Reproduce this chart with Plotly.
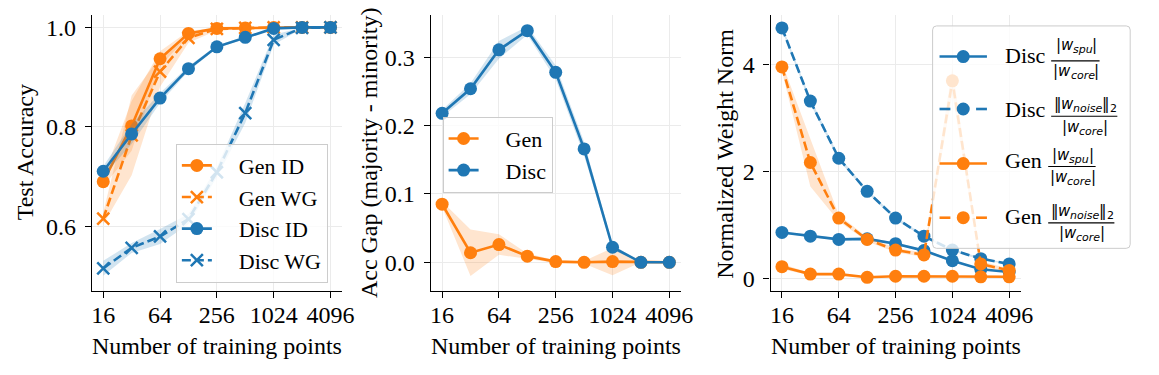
import math
import plotly.graph_objects as go

W, H = 1159, 375

# ---------------- data ----------------
n_points = [16, 32, 64, 128, 256, 512, 1024, 2048, 4096]
tick_vals = [16, 64, 256, 1024, 4096]
tick_text = ["16", "64", "256", "1024", "4096"]

# panel 1: test accuracy
gen_id = [0.690, 0.802, 0.937, 0.988, 0.998, 0.999, 1.0, 1.0, 1.0]
gen_id_std = [0.010, 0.050, 0.015, 0.005, 0.002, 0.001, 0.0, 0.0, 0.0]
gen_wg = [0.616, 0.783, 0.911, 0.979, 0.997, 0.999, 1.0, 1.0, 1.0]
gen_wg_std = [0.012, 0.080, 0.030, 0.010, 0.003, 0.001, 0.0, 0.0, 0.0]
disc_id = [0.711, 0.786, 0.858, 0.917, 0.961, 0.980, 0.998, 1.0, 1.0]
disc_id_std = [0.010, 0.020, 0.010, 0.005, 0.003, 0.002, 0.001, 0.0, 0.0]
disc_wg = [0.516, 0.557, 0.580, 0.615, 0.709, 0.828, 0.975, 0.999, 1.0]
disc_wg_std = [0.015, 0.010, 0.015, 0.010, 0.010, 0.020, 0.010, 0.001, 0.0]

# panel 2: accuracy gap
gap_gen = [0.085, 0.014, 0.026, 0.009, 0.001, 0.0, 0.001, 0.0, 0.0]
gap_gen_std = [0.004, 0.034, 0.015, 0.004, 0.002, 0.002, 0.020, 0.0, 0.0]
gap_disc = [0.218, 0.254, 0.311, 0.339, 0.278, 0.166, 0.022, 0.0, 0.0]
gap_disc_std = [0.005, 0.008, 0.013, 0.006, 0.010, 0.010, 0.004, 0.0, 0.0]

# panel 3: normalized weight norm
disc_spu = [0.86, 0.79, 0.73, 0.74, 0.65, 0.52, 0.33, 0.17, 0.12]
disc_spu_std = [0.02, 0.02, 0.02, 0.02, 0.02, 0.02, 0.02, 0.01, 0.01]
disc_noise = [4.69, 3.32, 2.25, 1.63, 1.13, 0.79, 0.53, 0.37, 0.27]
disc_noise_std = [0.04, 0.05, 0.04, 0.03, 0.03, 0.02, 0.02, 0.02, 0.01]
gen_spu = [0.22, 0.08, 0.08, 0.02, 0.04, 0.04, 0.04, 0.03, 0.03]
gen_spu_std = [0.05, 0.02, 0.02, 0.01, 0.01, 0.01, 0.01, 0.01, 0.01]
gen_noise = [3.96, 2.17, 1.13, 0.73, 0.53, 0.44, 3.70, 0.27, 0.15]
gen_noise_std = [0.08, 0.45, 0.06, 0.04, 0.04, 0.04, 0.25, 0.05, 0.03]

legend3_prefix = ["Disc", "Disc", "Gen", "Gen"]
legend3_norm = ["spu", "noise", "spu", "noise"]   # numerator subscript
legend3_core = "core"                               # denominator subscript

# ---------------- style ----------------
ORANGE = "#ff7f0e"
BLUE = "#1f77b4"
SERIF = "Liberation Serif"
MATH = "DejaVu Sans"
GRID = "#ebebeb"
GAP = "\u2002\u2002"  # spacing between legend handle and label


def rgba(hexc, a):
    h = hexc.lstrip("#")
    return "rgba(%d,%d,%d,%s)" % (int(h[0:2], 16), int(h[2:4], 16), int(h[4:6], 16), a)


def px(x):
    return x / W


def py(y):
    return 1 - y / H


fig = go.Figure()


def add_series(mean, std, color, name, xa, ya, dash="solid", symbol="circle", legend=None):
    upper = [m + s for m, s in zip(mean, std)]
    lower = [m - s for m, s in zip(mean, std)]
    fig.add_trace(go.Scatter(
        x=n_points + n_points[::-1], y=upper + lower[::-1],
        fill="toself", fillcolor=rgba(color, 0.2), line=dict(width=0),
        mode="lines", hoverinfo="skip", showlegend=False, xaxis=xa, yaxis=ya))
    if symbol == "circle":
        marker = dict(symbol="circle", size=13, color=color, line=dict(width=0))
    else:
        marker = dict(symbol="x-thin", size=12, color=color, line=dict(width=2.5, color=color))
    fig.add_trace(go.Scatter(
        x=n_points, y=mean, name=(GAP + name) if name else None, mode="lines+markers",
        line=dict(color=color, width=2.6, dash=("9px,4px" if dash == "dash" else "solid")),
        marker=marker, xaxis=xa, yaxis=ya,
        showlegend=legend is not None, legend=legend if legend else "legend"))


# panel 1
add_series(gen_id, gen_id_std, ORANGE, "Gen ID", "x", "y", legend="legend")
add_series(gen_wg, gen_wg_std, ORANGE, "Gen WG", "x", "y", dash="dash", symbol="x", legend="legend")
add_series(disc_id, disc_id_std, BLUE, "Disc ID", "x", "y", legend="legend")
add_series(disc_wg, disc_wg_std, BLUE, "Disc WG", "x", "y", dash="dash", symbol="x", legend="legend")

# panel 2
add_series(gap_gen, gap_gen_std, ORANGE, "Gen", "x2", "y2", legend="legend2")
add_series(gap_disc, gap_disc_std, BLUE, "Disc", "x2", "y2", legend="legend2")

# panel 3
add_series(disc_spu, disc_spu_std, BLUE, None, "x3", "y3")
add_series(disc_noise, disc_noise_std, BLUE, None, "x3", "y3", dash="dash")
add_series(gen_spu, gen_spu_std, ORANGE, None, "x3", "y3")
add_series(gen_noise, gen_noise_std, ORANGE, None, "x3", "y3", dash="dash")

L2 = math.log10(2)
xrange_ = [3.6 * L2, 12.4 * L2]
ydom = [py(291.5), py(15)]

axis_common = dict(
    showline=True, linecolor="black", linewidth=1.3, mirror=False,
    ticks="outside", ticklen=6, tickwidth=1.3, tickcolor="black",
    showgrid=True, gridcolor=GRID, gridwidth=1, zeroline=False,
    tickfont=dict(family=SERIF, size=24, color="black"),
)


def xaxis(dom, anchor):
    d = dict(axis_common)
    d.update(domain=dom, type="log", range=xrange_, tickvals=tick_vals, ticktext=tick_text,
             anchor=anchor, ticklabelstandoff=-4)
    return d


def yaxis(rng, tv, fmt, anchor):
    d = dict(axis_common)
    d.update(domain=ydom, range=rng, tickvals=tv, tickformat=fmt, anchor=anchor, ticklabelstandoff=4)
    return d


legend_common = dict(
    bgcolor="rgba(255,255,255,0.8)", bordercolor="#cccccc", borderwidth=1,
    font=dict(family=SERIF, size=22, color="black"),
    xanchor="left", yanchor="top", itemsizing="trace", tracegroupgap=0,
)

fig.update_layout(
    width=W, height=H, margin=dict(l=0, r=0, t=0, b=0),
    plot_bgcolor="white", paper_bgcolor="white",
    xaxis=xaxis([px(92), px(345)], "y"),
    yaxis=yaxis([0.471, 1.025], [0.6, 0.8, 1.0], ".1f", "x"),
    xaxis2=xaxis([px(435), px(688)], "y2"),
    yaxis2=yaxis([-0.0416, 0.362], [0.0, 0.1, 0.2, 0.3], ".1f", "x2"),
    xaxis3=xaxis([px(779), px(1032)], "y3"),
    yaxis3=yaxis([-0.231, 4.933], [0, 2, 4], "d", "x3"),
    legend=dict(legend_common, x=px(177), y=py(144)),
    legend2=dict(legend_common, x=px(447), y=py(117)),
)

annotations = []
# axis titles
for cx in [(92 + 345) / 2, (435 + 688) / 2, (779 + 1032) / 2]:
    annotations.append(dict(x=px(cx), y=py(347), xref="paper", yref="paper", showarrow=False,
                            text="Number of training points", xanchor="center", yanchor="middle",
                            font=dict(family=SERIF, size=24, color="black")))
for cx, cy, t in [(24, 153, "Test Accuracy"), (372, 153, "Acc Gap (majority - minority)"),
                  (732, 154, "Normalized Weight Norm")]:
    annotations.append(dict(x=px(cx), y=py(cy), xref="paper", yref="paper", showarrow=False,
                            text=t, textangle=-90, xanchor="center", yanchor="middle",
                            font=dict(family=SERIF, size=24, color="black")))

shapes = []


# manual legend for panel 3 (fraction labels)
def rounded_rect(x0, y0, x1, y1, r):
    pts = [("M", x0 + r, y0), ("L", x1 - r, y0), ("Q", x1, y0, x1, y0 + r),
           ("L", x1, y1 - r), ("Q", x1, y1, x1 - r, y1), ("L", x0 + r, y1),
           ("Q", x0, y1, x0, y1 - r), ("L", x0, y0 + r), ("Q", x0, y0, x0 + r, y0)]
    s = ""
    for p in pts:
        cmd = p[0]
        coords = p[1:]
        parts = []
        for i in range(0, len(coords), 2):
            parts.append("%.5f,%.5f" % (px(coords[i]), py(coords[i + 1])))
        s += cmd + " " + " ".join(parts) + " "
    return s + "Z"


# approximate DejaVu Sans advance widths (em)
EM = {"|": 0.337, "w": 0.818, "s": 0.521, "p": 0.635, "u": 0.634, "c": 0.550, "o": 0.612,
      "r": 0.411, "e": 0.615, "n": 0.634, "i": 0.278, "2": 0.636, "‖": 0.50}


def run_width(text, size):
    return sum(EM.get(ch, 0.6) for ch in text) * size


def add_runs(runs, cx, cy):
    """runs: list of (text, size, italic, dy) laid out left to right, centred at cx."""
    total = sum(run_width(t, s) for t, s, _, _ in runs)
    x = cx - total / 2
    for t, s, it, dy in runs:
        annotations.append(dict(x=px(x), y=py(cy + dy), xref="paper", yref="paper", showarrow=False,
                                text=t, xanchor="left", yanchor="middle", borderpad=0,
                                font=dict(family=MATH, size=s, color="black",
                                          style=("italic" if it else "normal"))))
        x += run_width(t, s)


BIG, SMALL, SUBDY = 15, 11, 4.5

shapes.append(dict(type="path", path=rounded_rect(943, 26, 1143, 249, 4), xref="paper", yref="paper",
                   fillcolor="rgba(255,255,255,0.8)", line=dict(color="#cccccc", width=1), layer="above"))

leg3_colors = [BLUE, BLUE, ORANGE, ORANGE]
leg3_dashed = [False, True, False, True]
leg3_marker_y = [56.7, 109.3, 164.0, 218.3]
leg3_text_y = [55.5, 110.0, 160.5, 217.0]
leg3_bar_y = [61.0, 116.5, 167.0, 223.5]
leg3_bar_x = [(1063, 1112), (1063, 1130), (1060, 1108), (1060, 1127)]
leg3_num_y = [45.5, 104.5, 155.0, 211.5]
leg3_den_y = [71.0, 127.0, 177.0, 233.5]

for i in range(4):
    c = leg3_colors[i]
    my = leg3_marker_y[i]
    if leg3_dashed[i]:
        segs = [(950, 961), (987, 998)]
    else:
        segs = [(950, 998)]
    for a, b in segs:
        shapes.append(dict(type="line", x0=px(a), x1=px(b), y0=py(my), y1=py(my), xref="paper", yref="paper",
                           line=dict(color=c, width=2.6), layer="above"))
    shapes.append(dict(type="circle", xref="paper", yref="paper", xsizemode="pixel", ysizemode="pixel",
                       xanchor=px(974), yanchor=py(my), x0=-6.5, x1=6.5, y0=-6.5, y1=6.5,
                       fillcolor=c, line=dict(width=0), layer="above"))
    annotations.append(dict(x=px(1014), y=py(leg3_text_y[i]), xref="paper", yref="paper", showarrow=False,
                            text=legend3_prefix[i], xanchor="left", yanchor="middle",
                            font=dict(family=SERIF, size=22, color="black")))
    bx0, bx1 = leg3_bar_x[i]
    shapes.append(dict(type="line", x0=px(bx0), x1=px(bx1), y0=py(leg3_bar_y[i]), y1=py(leg3_bar_y[i]),
                       xref="paper", yref="paper", line=dict(color="black", width=1.1), layer="above"))
    cx = (bx0 + bx1) / 2
    if legend3_norm[i] == "noise":
        num_runs = [("‖", BIG, False, 0), ("w", BIG, True, 0), ("noise", SMALL, True, SUBDY),
                    ("‖", BIG, False, 0), ("2", SMALL, False, SUBDY)]
    else:
        num_runs = [("|", BIG, False, 0), ("w", BIG, True, 0), (legend3_norm[i], SMALL, True, SUBDY),
                    ("|", BIG, False, 0)]
    den_runs = [("|", BIG, False, 0), ("w", BIG, True, 0), (legend3_core, SMALL, True, SUBDY),
                ("|", BIG, False, 0)]
    add_runs(num_runs, cx, leg3_num_y[i])
    add_runs(den_runs, cx, leg3_den_y[i])

fig.update_layout(annotations=annotations, shapes=shapes)
fig.write_html("out.html", post_script="document.body.style.margin='0';",
               config={"displayModeBar": False})
